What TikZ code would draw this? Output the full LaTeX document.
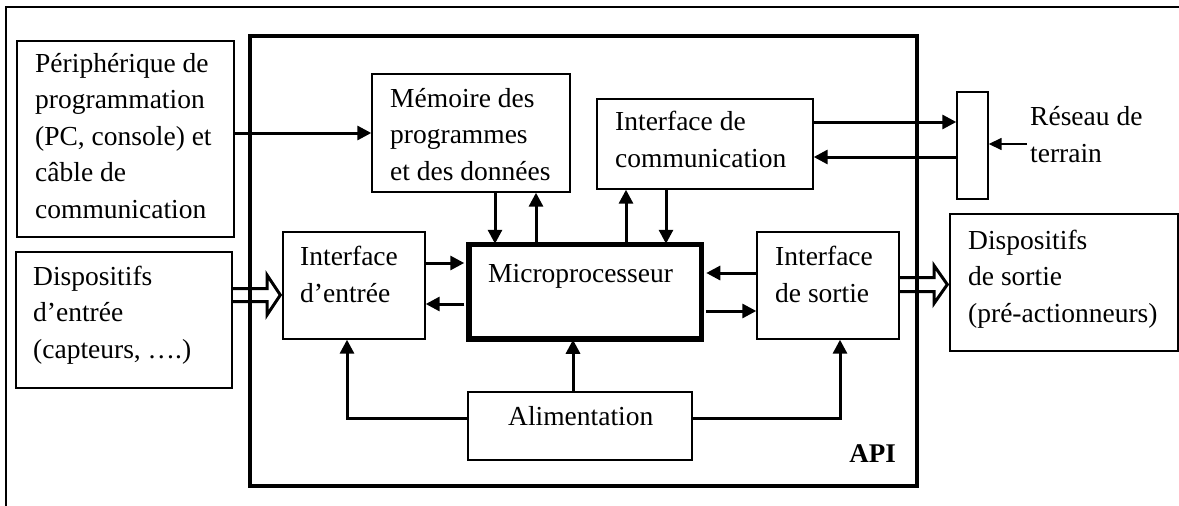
\documentclass[tikz,border=0pt]{standalone}
\usepackage{fontspec}
\setmainfont{Liberation Serif}
\usetikzlibrary{arrows.meta}
\begin{document}
\begin{tikzpicture}[x=1pt,y=-1pt,
  box/.style={draw, line width=1.4pt, inner sep=0pt, rectangle},
  txt/.style={anchor=base west, inner sep=0pt, align=left, font=\fontsize{27.5}{36.5}\selectfont},
  arr/.style={line width=3pt, -{Triangle[length=14pt,width=14pt]}},
  thinarr/.style={line width=1.6pt, -{Triangle[length=13pt,width=12pt]}},
  hollow/.style={line width=3pt, line join=miter}
]
\useasboundingbox (0,0) rectangle (1179,506);
% outer frame (cropped)
\draw[line width=2.4pt] (6,506) -- (6,7) -- (1179,7);

% boxes
\node[box, line width=3.2pt, minimum width=667pt, minimum height=450pt] (api) at (583.5,261) {};
\node[box, minimum width=217pt, minimum height=196pt] (peri) at (125.5,139) {};
\node[box, minimum width=216pt, minimum height=136pt] (din) at (124,320) {};
\node[box, minimum width=198pt, minimum height=118pt] (mem) at (471,133) {};
\node[box, minimum width=216pt, minimum height=90pt] (comm) at (705,144) {};
\node[box, minimum width=31pt, minimum height=107pt] (res) at (972.5,145.5) {};
\node[box, minimum width=228pt, minimum height=137pt] (dout) at (1064,282.5) {};
\node[box, minimum width=142pt, minimum height=107pt] (ie) at (354,285.5) {};
\node[box, line width=5.5pt, minimum width=232.5pt, minimum height=94.5pt] (micro) at (585.25,291.75) {};
\node[box, minimum width=142pt, minimum height=107pt] (is) at (828,285.5) {};
\node[box, minimum width=224pt, minimum height=68pt] (alim) at (580,426) {};

% texts (anchored at the baseline of their last line)
\node[txt] (tperi) at (35,218) {Périphérique de\\programmation\\(PC, console) et\\câble de\\communication};
\node[txt] (tdin) at (33,358) {Dispositifs\\d’entrée\\(capteurs, ….)};
\node[txt] (tmem) at (390,180) {Mémoire des\\programmes\\et des données};
\node[txt] (tcomm) at (615,167) {Interface de\\communication};
\node[txt] (tres) at (1030,162) {Réseau de\\terrain};
\node[txt] (tdout) at (968,322) {Dispositifs\\de sortie\\(pré-actionneurs)};
\node[txt] (tie) at (300,302) {Interface\\d’entrée};
\node[txt] (tis) at (775,302) {Interface\\de sortie};
\node[txt] (tmicro) at (488,282) {Microprocesseur};
\node[txt] (talim) at (508,425) {Alimentation};
\node[txt, anchor=base east, font=\fontsize{27}{32}\selectfont\bfseries] (tapi) at (896,462) {API};
\coordinate (rt) at (1027,144);

% connectors
\draw[arr] (peri.east |- 0,133) -- (mem.west |- 0,133);
\draw[arr] (495,0 |- mem.south) -- ([yshift=-2pt]495,0 |- micro.north);
\draw[arr] ([yshift=-2pt]536,0 |- micro.north) -- (536,0 |- mem.south);
\draw[arr] ([yshift=-2pt]626,0 |- micro.north) -- (626,0 |- comm.south);
\draw[arr] (666,0 |- comm.south) -- ([yshift=-2pt]666,0 |- micro.north);
\draw[arr] (comm.east |- 0,122) -- (res.west |- 0,122);
\draw[arr] (res.west |- 0,157) -- (comm.east |- 0,157);
\draw[thinarr] (rt) -- (res.east |- rt);
\draw[arr] (ie.east |- 0,263) -- ([xshift=-2pt]micro.west |- 0,263);
\draw[arr] ([xshift=-2pt]micro.west |- 0,304) -- (ie.east |- 0,304);
\draw[arr] (is.west |- 0,273) -- ([xshift=2pt]micro.east |- 0,273);
\draw[arr] ([xshift=2pt]micro.east |- 0,311) -- (is.west |- 0,311);
\draw[arr] (573,0 |- alim.north) -- ([yshift=2pt]573,0 |- micro.south);
\draw[arr] (alim.west |- 0,418) -| (347,0 |- ie.south);
\draw[arr] (alim.east |- 0,418) -| (840,0 |- is.south);

% hollow arrows
\draw[hollow] (din.east |- 0,288.5) -- (267,288.5) -- (267,275) -- ([xshift=-2pt]ie.west |- 0,295) -- (267,315) -- (267,301.5) -- (din.east |- 0,301.5);
\draw[hollow] (is.east |- 0,277.5) -- (934,277.5) -- (934,265.5) -- ([xshift=-2pt]dout.west |- 0,284.5) -- (934,303.5) -- (934,291.5) -- (is.east |- 0,291.5);
\end{tikzpicture}
\end{document}
